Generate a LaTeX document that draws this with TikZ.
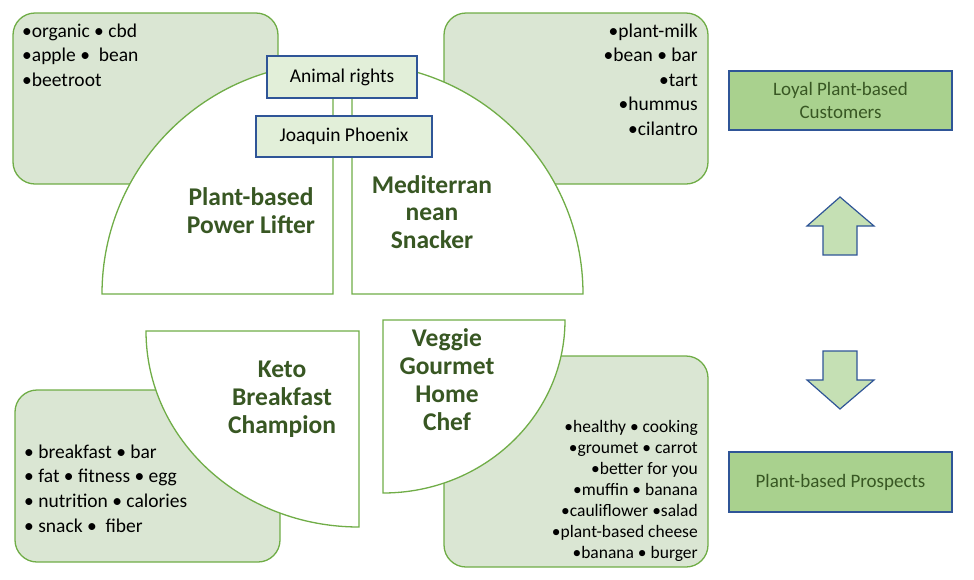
\documentclass[tikz,border=0pt]{standalone}
\usepackage{fontspec}
\setmainfont{Carlito}
\definecolor{leafline}{HTML}{70AD47}
\definecolor{leaffill}{HTML}{DAE6D3}
\definecolor{tagblue}{HTML}{2F5597}
\definecolor{tagfill}{HTML}{E2EFD9}
\definecolor{segfill}{HTML}{A9D18E}
\definecolor{arrowfill}{HTML}{C5E0B4}
\definecolor{darkleaf}{HTML}{385723}

\begin{document}
\begin{tikzpicture}[x=1pt, y=-1pt,
    wordbox/.style={draw=leafline, fill=leaffill, line width=1.3pt, rounded corners=22pt, inner sep=0pt},
    quad/.style={draw=leafline, fill=white, line width=1.3pt},
    tagbox/.style={draw=tagblue, fill=tagfill, line width=1.2pt, inner sep=0pt, font=\fontsize{19.5}{22}\selectfont},
    segbox/.style={draw=tagblue, fill=segfill, line width=1.2pt, inner sep=0pt, minimum width=223pt, text=darkleaf, align=center, font=\fontsize{19}{23.5}\selectfont},
    persona/.style={text=darkleaf, align=center, font=\bfseries\fontsize{25.5}{28}\selectfont},
    words/.style={inner sep=0pt, font=\fontsize{19.5}{24.5}\selectfont},
    shift arrow/.style={draw=tagblue, fill=arrowfill, line width=1.2pt, line join=miter}]
    \useasboundingbox (0,0) rectangle (974,579);

    % word clouds behind the quadrants
    \node[wordbox, minimum width=265pt, minimum height=171pt] (plbox) at (145.5, 98.5) {};
    \node[wordbox, minimum width=264pt, minimum height=171pt] (medbox) at (576, 98.5) {};
    \node[wordbox, minimum width=265pt, minimum height=172pt] (ketobox) at (147.5, 476) {};
    \node[wordbox, minimum width=264pt, minimum height=211pt] (chefbox) at (576, 461.5) {};

    % quadrants
    \draw[quad] (333, 294) -- (102, 294) arc[start angle=180, end angle=270, radius=231] -- cycle;
    \draw[quad] (352, 294) -- (352, 63) arc[start angle=270, end angle=360, radius=231] -- cycle;
    \draw[quad] (359, 331) -- (146, 331) arc[start angle=180, end angle=90, x radius=213, y radius=196] -- cycle;
    \draw[quad] (383, 320) -- (565, 320) arc[start angle=0, end angle=90, x radius=182, y radius=173] -- cycle;

    \node[tagbox, minimum width=150pt, minimum height=42pt] (rights) at (342, 77) {Animal rights};
    \node[tagbox, minimum width=176pt, minimum height=41pt] (phoenix) at (344, 136.5) {Joaquin Phoenix};

    \node[persona] (lifter) at (251, 211) {Plant-based\\Power Lifter};
    \node[persona, font=\bfseries\fontsize{25.5}{27.5}\selectfont] (snacker) at (432, 212) {Mediterran\\nean\\Snacker};
    \node[persona] (keto) at (282, 399) {Keto\\Breakfast\\Champion};
    \node[persona] (chef) at (447, 380) {Veggie\\Gourmet\\Home\\Chef};

    \node[words, anchor=north west, align=left] (plwords) at (22, 23.5)
        {•organic • cbd\\•apple •\ \ bean\\•beetroot};
    \node[words, anchor=north east, align=right] (medwords) at (698, 23.5)
        {•plant-milk\\•bean • bar\\•tart\\•hummus\\•cilantro};
    \node[words, anchor=north west, align=left, font=\fontsize{19.5}{24.7}\selectfont] (ketowords) at (24, 444.5)
        {• breakfast • bar\\• fat • fitness • egg\\• nutrition • calories\\• snack •\ \ fiber};
    \node[words, anchor=north east, align=right, font=\fontsize{17.5}{21}\selectfont] (chefwords) at (698, 420)
        {•healthy • cooking\\•groumet • carrot\\•better for you\\•muffin • banana\\•cauliflower •salad\\•plant-based cheese\\•banana • burger};

    % segments on the right
    \node[segbox, minimum height=59pt] (loyal) at (840.5, 100.5) {Loyal Plant-based\\Customers};
    \node[segbox, minimum height=60pt] (prospects) at (840.5, 482) {Plant-based Prospects};

    \draw[shift arrow] (840, 197) -- (874, 226) -- (857, 226) -- (857, 255) -- (823, 255) -- (823, 226) -- (807, 226) -- cycle;
    \draw[shift arrow] (823, 351) -- (857, 351) -- (857, 380) -- (874, 380) -- (840, 409) -- (807, 380) -- (823, 380) -- cycle;
\end{tikzpicture}
\end{document}
